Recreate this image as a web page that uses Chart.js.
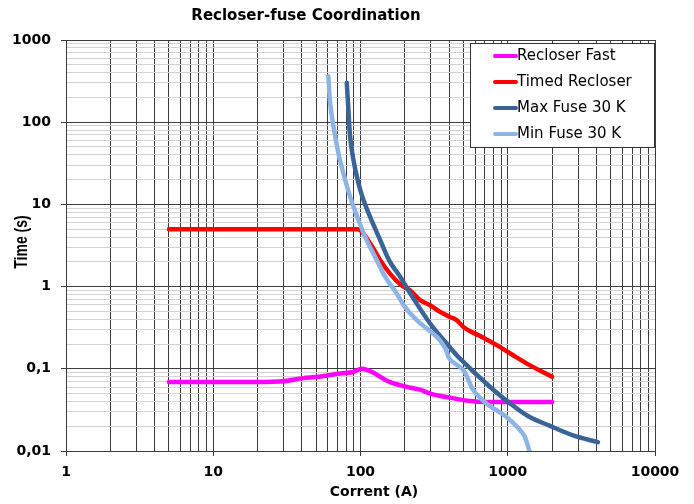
<!DOCTYPE html>
<html><head><meta charset="utf-8">
<script src="https://cdn.jsdelivr.net/npm/chart.js@4/dist/chart.umd.min.js"></script>
<style>html,body{margin:0;padding:0;background:#fff;}#wrap{width:694px;height:504px;}</style>
</head><body><div id="wrap"><canvas id="c" width="694" height="504"></canvas></div>
<script>
const chartTitle = 'Recloser-fuse Coordination';
const xTitle = 'Corrent (A)';
const yTitle = 'Time (s)';
const seriesNames = ['Recloser Fast', 'Timed Recloser', 'Max Fuse 30 K', 'Min Fuse 30 K'];
const seriesColors = ['#FF00FF', '#FF0000', '#3A6396', '#8DB4E2'];

// Recloser Fast
const fastI = [5, 20, 30, 41, 50, 73, 89, 102, 159, 217, 254, 297, 405, 555, 720, 2000];
const fastT = [0.069, 0.069, 0.0705, 0.077, 0.0795, 0.0875, 0.0915, 0.1, 0.069, 0.059, 0.0557, 0.05, 0.0446, 0.0405, 0.0395, 0.0395];
// Timed Recloser
const timedI = [5, 96, 116, 136, 158, 186, 217, 254, 297, 347, 405, 451, 500, 649, 842, 1087, 1419, 2000];
const timedT = [5, 5, 3.37, 2.1, 1.45, 1.07, 0.9, 0.684, 0.594, 0.493, 0.428, 0.39, 0.323, 0.25, 0.194, 0.146, 0.11, 0.08];
// Max Fuse 30 K
const maxI = [80.7, 82.8, 85, 89.5, 96.8, 104.6, 116, 136, 158.5, 186, 217, 297, 385, 474, 759, 1037, 1380, 1900, 2773, 4100];
const maxT = [301, 142, 67, 34.9, 18.2, 11.4, 7.1, 3.69, 2.0, 1.32, 0.834, 0.356, 0.203, 0.133, 0.06, 0.038, 0.0265, 0.0205, 0.0155, 0.0128];
// Min Fuse 30 K
const minI = [60.5, 62.2, 65.5, 70.8, 76.5, 85, 96.8, 110, 129, 147, 176, 200, 241, 330, 375, 405, 500, 585, 720, 984, 1276, 1402];
const minT = [362, 171, 89, 42, 24, 12.4, 6.47, 3.69, 2.1, 1.32, 0.826, 0.567, 0.39, 0.244, 0.18, 0.13, 0.096, 0.0547, 0.0376, 0.0258, 0.016, 0.0101];

const xDecades = [1, 10, 100, 1000, 10000];
const xTickLabels = ['1', '10', '100', '1000', '10000'];
const yDecades = [0.01, 0.1, 1, 10, 100, 1000];
const yTickLabels = ['0,01', '0,1', '1', '10', '100', '1000'];

function gridValues(decades) {
  const out = [];
  for (let i = 0; i < decades.length - 1; i++) {
    for (let m = 1; m <= 9; m++) out.push(parseFloat((decades[i] * m).toPrecision(6)));
  }
  out.push(decades[decades.length - 1]);
  return out;
}
function decadeIndex(v, decades) {
  for (let i = 0; i < decades.length; i++) {
    if (Math.abs(Math.log10(v) - Math.log10(decades[i])) < 1e-6) return i;
  }
  return -1;
}
const xGrid = gridValues(xDecades);
const yGrid = gridValues(yDecades);

const seriesI = [fastI, timedI, maxI, minI];
const seriesT = [fastT, timedT, maxT, minT];
const seriesInterp = ['monotone', 'monotone', 'default', 'default'];
const datasets = seriesNames.map((name, k) => ({
  label: name,
  data: seriesI[k].map((x, j) => ({ x: x, y: seriesT[k][j] })),
  borderColor: seriesColors[k],
  backgroundColor: seriesColors[k],
  borderWidth: 4.5,
  pointRadius: 0,
  fill: false,
  tension: 0.35,
  cubicInterpolationMode: seriesInterp[k],
  borderCapStyle: 'round',
  borderJoinStyle: 'round',
  order: seriesNames.length - k
}));

const decorPlugin = {
  id: 'decor',
  afterDraw(chart) {
    const ctx = chart.ctx;
    const a = chart.chartArea;
    ctx.save();
    // legend box
    const bx = a.right - 185, by = a.top + 3, bw = 184, bh = 104;
    ctx.fillStyle = '#ffffff';
    ctx.fillRect(bx, by, bw, bh);
    ctx.strokeStyle = '#333333';
    ctx.lineWidth = 1;
    ctx.strokeRect(Math.round(bx) + 0.5, Math.round(by) + 0.5, bw, bh);
    ctx.font = '15px "DejaVu Sans"';
    ctx.textBaseline = 'middle';
    ctx.textAlign = 'left';
    chart.data.datasets.forEach((ds, i) => {
      const yy = by + 13 + i * 26;
      ctx.strokeStyle = ds.borderColor;
      ctx.lineWidth = 4;
      ctx.lineCap = 'round';
      ctx.beginPath();
      ctx.moveTo(bx + 25, yy);
      ctx.lineTo(bx + 46, yy);
      ctx.stroke();
      ctx.fillStyle = '#000';
      ctx.fillText(ds.label, bx + 47, yy);
    });
    // titles
    ctx.fillStyle = '#000';
    ctx.textAlign = 'center';
    ctx.textBaseline = 'middle';
    ctx.font = 'bold 15px "DejaVu Sans"';
    ctx.fillText(chartTitle, 306, 16);
    ctx.font = 'bold 14px "DejaVu Sans"';
    ctx.fillText(xTitle, 374, 492);
    ctx.translate(22, 242);
    ctx.rotate(-Math.PI / 2);
    ctx.scale(1, 1.25);
    ctx.font = 'bold 14px "Liberation Sans"';
    ctx.fillText(yTitle, 0, 0);
    ctx.restore();
  }
};

const tickFont = { family: 'DejaVu Sans', weight: 'bold', size: 14 };

new Chart(document.getElementById('c'), {
  type: 'line',
  data: { datasets: datasets },
  options: {
    responsive: false,
    animation: false,
    devicePixelRatio: 1,
    layout: { padding: { top: 40, right: 39, left: 0, bottom: 0 } },
    plugins: { legend: { display: false }, title: { display: false }, tooltip: { enabled: false } },
    scales: {
      x: {
        type: 'logarithmic',
        min: 1, max: 10000,
        afterBuildTicks: (s) => { s.ticks = xGrid.map(v => ({ value: v })); },
        afterFit: (s) => { s.height = 53; },
        ticks: {
          autoSkip: false, maxRotation: 0, minRotation: 0, padding: 8,
          color: '#000', font: tickFont,
          callback: (v) => { const i = decadeIndex(v, xDecades); return i >= 0 ? xTickLabels[i] : ''; }
        },
        grid: {
          color: '#3c3c3c', lineWidth: 1, tickLength: 5,
          tickColor: (c) => decadeIndex(c.tick.value, xDecades) >= 0 ? '#3c3c3c' : 'rgba(0,0,0,0)'
        },
        border: { display: true, color: '#3c3c3c', width: 1 }
      },
      y: {
        type: 'logarithmic',
        min: 0.01, max: 1000,
        afterBuildTicks: (s) => { s.ticks = yGrid.map(v => ({ value: v })); },
        afterFit: (s) => { s.width = 66; },
        ticks: {
          autoSkip: false, padding: 10,
          color: '#000', font: tickFont,
          callback: (v) => { const i = decadeIndex(v, yDecades); return i >= 0 ? yTickLabels[i] : ''; }
        },
        grid: {
          color: (c) => decadeIndex(c.tick.value, yDecades) >= 0 ? '#3c3c3c' : '#d2d2d2',
          lineWidth: 1, tickLength: 5,
          tickColor: (c) => decadeIndex(c.tick.value, yDecades) >= 0 ? '#3c3c3c' : 'rgba(0,0,0,0)'
        },
        border: { display: true, color: '#3c3c3c', width: 1 }
      }
    }
  },
  plugins: [decorPlugin]
});
</script></body></html>
